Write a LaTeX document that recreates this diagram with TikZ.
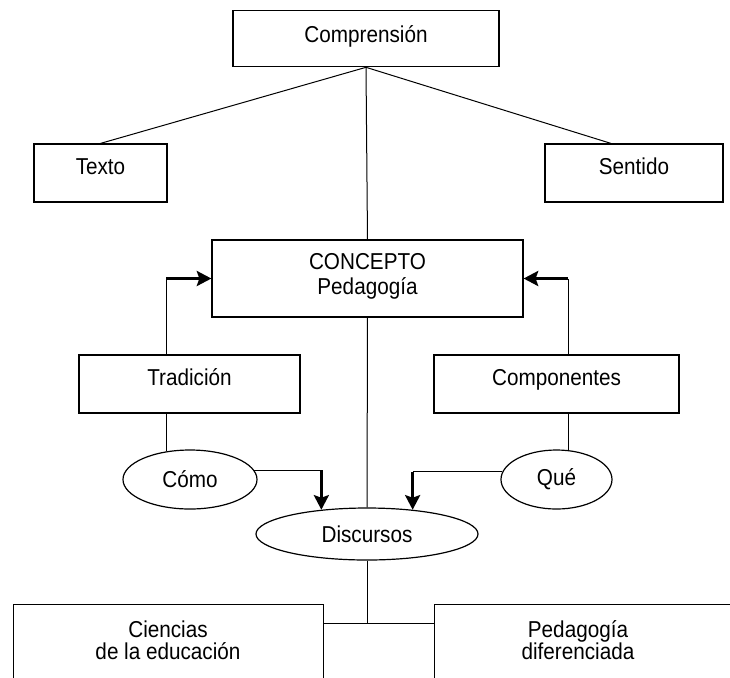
\documentclass[tikz,border=0pt]{standalone}
\usepackage{fontspec}
\setmainfont{Liberation Sans}[FakeStretch=0.9]
\usetikzlibrary{arrows.meta, shapes.geometric}

\begin{document}
\begin{tikzpicture}[x=0.5pt, y=-0.5pt, font=\fontsize{11.5}{12.5}\selectfont]
			\tikzset{%
				boxbase/.style={rectangle, draw=black, line width=0.6pt, inner xsep=2pt, align=center},
				mybox/.style={boxbase, inner ysep=6.3pt, text height=8.8pt, text depth=7.6pt},
				myoval/.style={ellipse, draw=black, line width=0.6pt, inner sep=0pt},
				link/.style={line width=0.5pt},
				push/.style={->, >={Stealth[length=7.3pt, width=7.5pt, inset=1.3pt]}, line width=1.6pt}
			}
			\useasboundingbox (0,0) rectangle (730,677);
			\clip (0,0) rectangle (730,677);
			\node[mybox, minimum width=133pt, text height=9.8pt, text depth=5.8pt](comp) at (366,38.5){Comprensión};
			\node[mybox, minimum width=66.5pt](texto) at (100.5,173){Texto};
			\node[mybox, minimum width=89pt](sent) at (634,173){Sentido};
			\node[boxbase, minimum width=155.5pt, minimum height=38.5pt, text depth=4.5pt](concepto) at (367.5,278.5){CONCEPTO\\Pedagogía};
			\node[mybox, minimum width=110.5pt](trad) at (189.5,384){Tradición};
			\node[mybox, minimum width=122.5pt](compo) at (556.5,384){Componentes};
			\node[myoval, minimum width=67pt, minimum height=29.5pt](como) at (190,479.5){Cómo};
			\node[myoval, minimum width=55.5pt, minimum height=29.5pt](que) at (556.5,479.5){Qué};
			\node[myoval, minimum width=111pt, minimum height=26pt](disc) at (367,534){Discursos};
			\node[boxbase, minimum width=155pt, minimum height=60pt, anchor=north west](cien) at (13,604){};
			\node[boxbase, minimum width=180pt, minimum height=60pt, anchor=north west](pdif) at (434,604){};
			\node[align=center, font=\fontsize{11.5}{10.8}\selectfont](cientxt) at (168,640){Ciencias\\de la educación};
			\node[align=center, font=\fontsize{11.5}{10.8}\selectfont](pdiftxt) at (578,640){Pedagogía\\diferenciada};
			% top links
			\draw[link] (comp.south) -- (texto.north);
			\draw[link] (comp.south) -- ([xshift=-11.5pt]sent.north);
			\draw[link] (comp.south) -- (concepto.north);
			% left branch
			\coordinate (tl) at (como.130 |- concepto.west);
			\draw[link] (trad.north -| tl) -- (tl);
			\draw[push] (tl) -- (concepto.west);
			\draw[link] (trad.south -| tl) -- (como.130);
			% right branch
			\coordinate (tr) at (que.68 |- concepto.east);
			\draw[link] (compo.north -| tr) -- (tr);
			\draw[push] (tr) -- (concepto.east);
			\draw[link] (compo.south -| tr) -- (que.68);
			% into Discursos
			\draw[link] (concepto.south) -- (disc.north);
			\coordinate (bl) at (como.8 -| disc.152);
			\draw[link] (como.8) -- (bl);
			\draw[push] (bl) -- (disc.152);
			\coordinate (br) at (que.172 -| disc.28);
			\draw[link] (que.172) -- (br);
			\draw[push] (br) -- (disc.28);
			% bottom
			\coordinate (jn) at ([yshift=-9.5pt]cien.north east);
			\draw[link] (disc.south) -- (disc.south |- jn);
			\draw[link] (jn) -- (jn -| pdif.west);
		\end{tikzpicture}
\end{document}
